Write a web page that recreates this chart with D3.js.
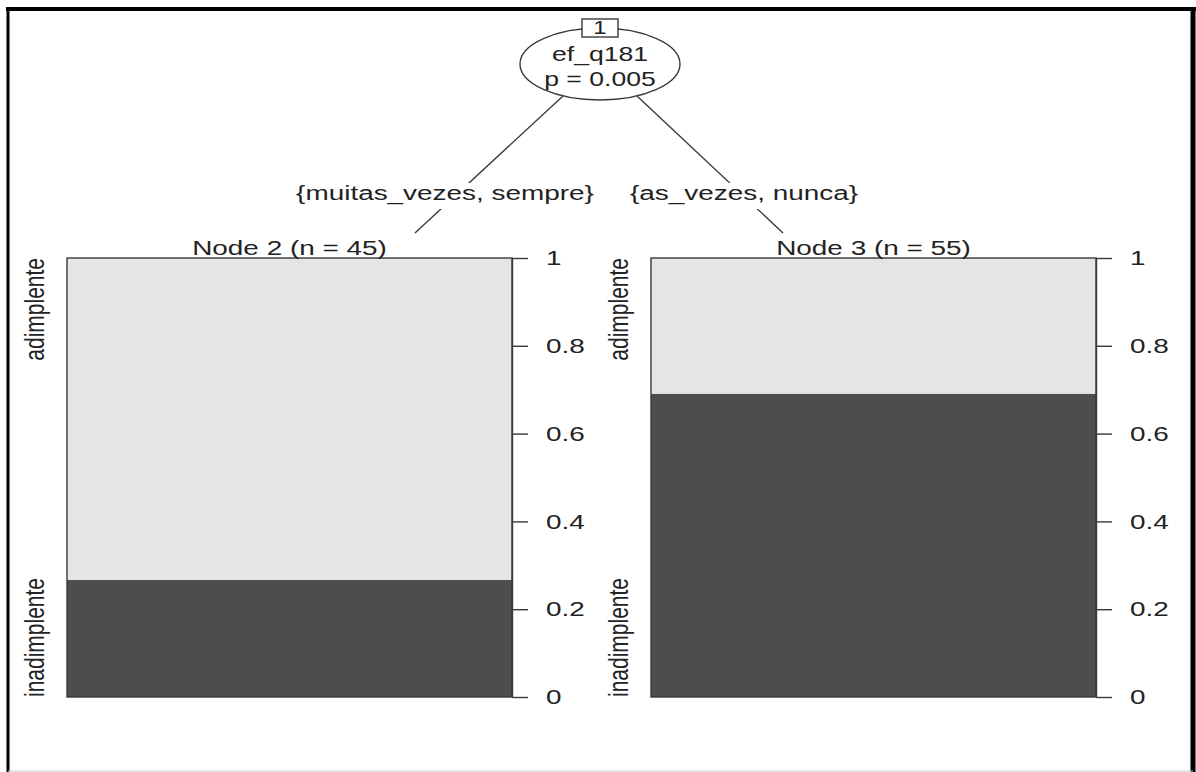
<!DOCTYPE html>
<html>
  <head>
    <meta charset="utf-8" />
    <script src="https://cdn.jsdelivr.net/npm/d3@7"></script>
    <style>
      body {
        margin: 0;
        background: #fff;
        font-family: "Liberation Sans", Arial, Helvetica, sans-serif;
      }
      svg {
        display: block;
      }
    </style>
  </head>
  <body>
    <script>
      // ctree: one split, two terminal nodes
      var rootId = "1";
      var splitVar = "ef_q181";
      var splitP = "p = 0.005";
      var splitLabels = ["{muitas_vezes, sempre}", "{as_vezes, nunca}"];
      var nodeIds = [2, 3];
      var nodeN = [45, 55];
      var classes = ["inadimplente", "adimplente"];
      var inadCount = [12, 38];
      var adimCount = [33, 17];
      var tickValues = [0, 0.2, 0.4, 0.6, 0.8, 1];

      var W = 1196,
        H = 772;
      var sx = 1.33; // the picture is stretched sideways
      var fs = 21;
      var ink = "#222";
      var lineCol = "#3a3a3a";

      var svg = d3
        .select("body")
        .append("svg")
        .attr("width", W)
        .attr("height", H);

      // frame
      svg
        .append("line")
        .attr("x1", 6).attr("x2", W).attr("y1", 9).attr("y2", 9)
        .attr("stroke", "#000").attr("stroke-width", 4);
      svg
        .append("line")
        .attr("x1", 8).attr("x2", 8).attr("y1", 7).attr("y2", H)
        .attr("stroke", "#000").attr("stroke-width", 3);
      svg
        .append("line")
        .attr("x1", 1193).attr("x2", 1193).attr("y1", 7).attr("y2", H)
        .attr("stroke", "#000").attr("stroke-width", 5);
      svg
        .append("line")
        .attr("x1", 8).attr("x2", 1193).attr("y1", 771).attr("y2", 771)
        .attr("stroke", "#ccc").attr("stroke-width", 1);

      function stretchText(g, x, y, txt, anchor, size) {
        return g
          .append("text")
          .attr("transform", "translate(" + x + "," + y + ") scale(" + sx + ",1)")
          .attr("text-anchor", anchor || "middle")
          .attr("font-size", size || fs)
          .attr("fill", ink)
          .text(txt);
      }

      // scales
      var x = d3
        .scaleBand()
        .domain(nodeIds)
        .range([67, 1096])
        .paddingInner(0.238)
        .paddingOuter(0);
      var y = d3.scaleLinear().domain([0, 1]).range([697, 258]);

      // root node geometry
      var root = { x: 600, y: 64, rx: 80, ry: 36 };
      var edgeStart = [-37, 37];
      var edgeEnd = [415, 783];
      var edgeEndY = 233;
      var labelX = [445, 744];
      var labelY = 200;

      // edges
      nodeIds.forEach(function (id, i) {
        var x0 = root.x + edgeStart[i];
        var t = edgeStart[i] / root.rx;
        var y0 = root.y + root.ry * Math.sqrt(1 - t * t);
        svg
          .append("line")
          .attr("x1", x0).attr("y1", y0)
          .attr("x2", edgeEnd[i]).attr("y2", edgeEndY)
          .attr("stroke", lineCol).attr("stroke-width", 1.4);
        var txt = stretchText(svg, labelX[i], labelY, splitLabels[i]);
        var w = txt.node().getComputedTextLength() * sx;
        svg
          .insert("rect", function () {
            return txt.node();
          })
          .attr("x", labelX[i] - w / 2 - 3)
          .attr("y", labelY - 17)
          .attr("width", w + 6)
          .attr("height", 26)
          .attr("fill", "#fff");
      });

      // root ellipse
      svg
        .append("ellipse")
        .attr("cx", root.x).attr("cy", root.y)
        .attr("rx", root.rx).attr("ry", root.ry)
        .attr("fill", "#fff").attr("stroke", lineCol).attr("stroke-width", 1.4);
      stretchText(svg, root.x, 61, splitVar, "middle", 20);
      stretchText(svg, root.x, 86, splitP, "middle", 20);
      svg
        .append("rect")
        .attr("x", root.x - 18).attr("y", 19)
        .attr("width", 36).attr("height", 18)
        .attr("fill", "#fff").attr("stroke", lineCol).attr("stroke-width", 1.4);
      stretchText(svg, root.x, 34, rootId, "middle", 18);

      // terminal nodes: stacked proportions
      var rows = nodeIds.map(function (id, i) {
        var n = inadCount[i] + adimCount[i];
        return {
          id: id,
          n: nodeN[i],
          inadimplente: inadCount[i] / n,
          adimplente: adimCount[i] / n,
        };
      });
      var stack = d3.stack().keys(classes)(rows);
      var fills = { inadimplente: "#4d4d4d", adimplente: "#e5e5e5" };

      var panels = svg
        .selectAll("g.panel")
        .data(rows)
        .enter()
        .append("g")
        .attr("class", "panel")
        .attr("transform", function (d) {
          return "translate(" + x(d.id) + ",0)";
        });

      stack.forEach(function (layer) {
        panels
          .append("rect")
          .attr("x", 0)
          .attr("width", x.bandwidth())
          .attr("y", function (d, i) {
            return y(layer[i][1]);
          })
          .attr("height", function (d, i) {
            return y(layer[i][0]) - y(layer[i][1]);
          })
          .attr("fill", fills[layer.key]);
      });

      panels
        .append("rect")
        .attr("x", 0)
        .attr("y", y(1))
        .attr("width", x.bandwidth())
        .attr("height", y(0) - y(1))
        .attr("fill", "none")
        .attr("stroke", lineCol)
        .attr("stroke-width", 1.4);

      panels.each(function (d) {
        var g = d3.select(this);
        stretchText(g, x.bandwidth() / 2, 255, "Node " + d.id + " (n = " + d.n + ")");

        // class labels, rotated, at bottom and top of the bar
        g.append("text")
          .attr("transform", "translate(-23," + y(0) + ") scale(" + sx + ",1) rotate(-90)")
          .attr("text-anchor", "start")
          .attr("font-size", fs)
          .attr("fill", ink)
          .text(classes[0]);
        g.append("text")
          .attr("transform", "translate(-23," + y(1) + ") scale(" + sx + ",1) rotate(-90)")
          .attr("text-anchor", "end")
          .attr("font-size", fs)
          .attr("fill", ink)
          .text(classes[1]);

        var ax = g
          .append("g")
          .attr("transform", "translate(" + x.bandwidth() + ",0)")
          .call(
            d3
              .axisRight(y)
              .tickValues(tickValues)
              .tickSize(16)
              .tickSizeOuter(0)
              .tickFormat(d3.format("~g"))
          );
        ax.select(".domain").attr("stroke", lineCol).attr("stroke-width", 1.4);
        ax.selectAll(".tick line").attr("stroke", lineCol).attr("stroke-width", 1.4);
        ax.selectAll(".tick text")
          .attr("x", null)
          .attr("transform", "translate(34,0) scale(" + sx + ",1)")
          .attr("font-size", fs)
          .attr("font-family", null)
          .attr("fill", ink);
      });
    </script>
  </body>
</html>
